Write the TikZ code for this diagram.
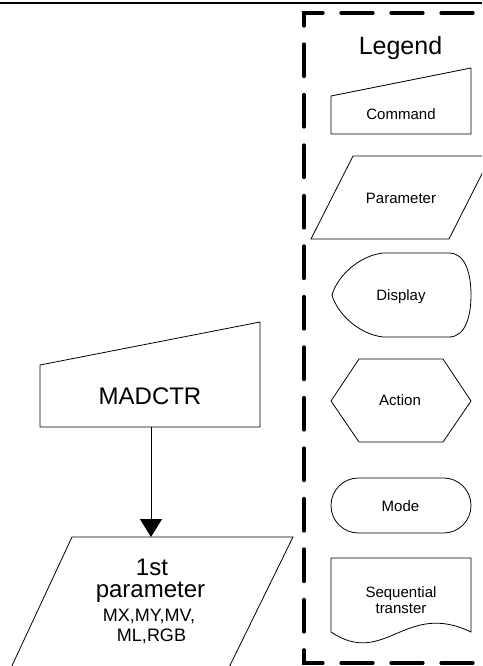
\documentclass[tikz,border=0pt]{standalone}
\usepackage{fontspec}
\setmainfont{Liberation Sans}
\usetikzlibrary{arrows.meta}
\begin{document}
\begin{tikzpicture}[x=1pt,y=-1pt,
  shp/.style={draw=black,line width=0.8pt,line join=miter},
  legtxt/.style={anchor=base,inner sep=0pt,font=\fontsize{15}{17}\selectfont},
  bigtxt/.style={anchor=base,inner sep=0pt,font=\fontsize{24}{26}\selectfont},
  midtxt/.style={anchor=base,inner sep=0pt,font=\fontsize{18}{20}\selectfont},
  dashframe/.style={line width=3.2pt,line cap=round,line join=miter}]
\useasboundingbox (0,0) rectangle (482,666);
\clip (0,0) rectangle (482,666);
% top rule
\draw[line width=2.6pt] (0,3) -- (482,3);
% dashed legend frame
\draw[dashframe,dash pattern=on 32pt off 18pt] (304,26) -- (304,13) -- (530,13);
\draw[dashframe,dash pattern=on 32.5pt off 18pt,dash phase=32.5pt] (304,26) -- (304,650);
\draw[dashframe,dash pattern=on 32pt off 18pt] (304,650) -- (304,663) -- (530,663);
\node[anchor=base,inner sep=0pt,font=\fontsize{25}{28}\selectfont] (legend) at (400.5,55) {Legend};
% Command
\draw[shp] (331,96) -- (471,68) -- (471,134) -- (331,134) -- cycle;
\node[legtxt] (command) at (401,120) {Command};
% Parameter
\draw[shp] (353,156) -- (491,156) -- (449,239) -- (311,239) -- cycle;
\node[legtxt] (parameter) at (401,203) {Parameter};
% Display
\draw[shp] (383,253) -- (449,253) .. controls (466,253) and (471,275) .. (471,295)
  .. controls (471,315) and (466,337) .. (449,337) -- (383,337)
  .. controls (358,334) and (337,313) .. (332,295)
  .. controls (337,277) and (358,256) .. (383,253) -- cycle;
\node[legtxt] (display) at (401,300) {Display};
% Action
\draw[shp] (359,359) -- (443,359) -- (471,401) -- (443,442) -- (359,442) -- (331,401) -- cycle;
\node[legtxt] (action) at (400,405) {Action};
% Mode
\draw[shp,rounded corners=27.4pt] (331,478) rectangle (471,533);
\node[legtxt] (mode) at (400.5,511) {Mode};
% Sequential transfer
\draw[shp] (331,558) -- (471,558) -- (471,632) .. controls (405,600) and (385,668) .. (331,632) -- cycle;
\node[legtxt] (seq1) at (401,597) {Sequential};
\node[legtxt] (seq2) at (401,613) {transter};
% MADCTR command
\draw[shp] (40,365) -- (260,322) -- (260,427) -- (40,427) -- cycle;
\coordinate (madbot) at (151,427);
\node[bigtxt] (madctr) at (150,404) {MADCTR};
% 1st parameter
\draw[shp] (72,537) -- (293,537) -- (213,700) -- (-4,700) -- cycle;
\coordinate (partop) at (151,537);
\node[bigtxt] (p1) at (152,575) {1st};
\node[bigtxt] (p2) at (150.5,597) {parameter};
\node[midtxt] (p3) at (149,621) {MX,MY,MV,};
\node[midtxt] (p4) at (151.5,641) {ML,RGB};
% connector
\draw[line width=0.8pt,-{Triangle[length=18pt,width=22pt]}] (madbot) -- (partop);
\end{tikzpicture}
\end{document}
